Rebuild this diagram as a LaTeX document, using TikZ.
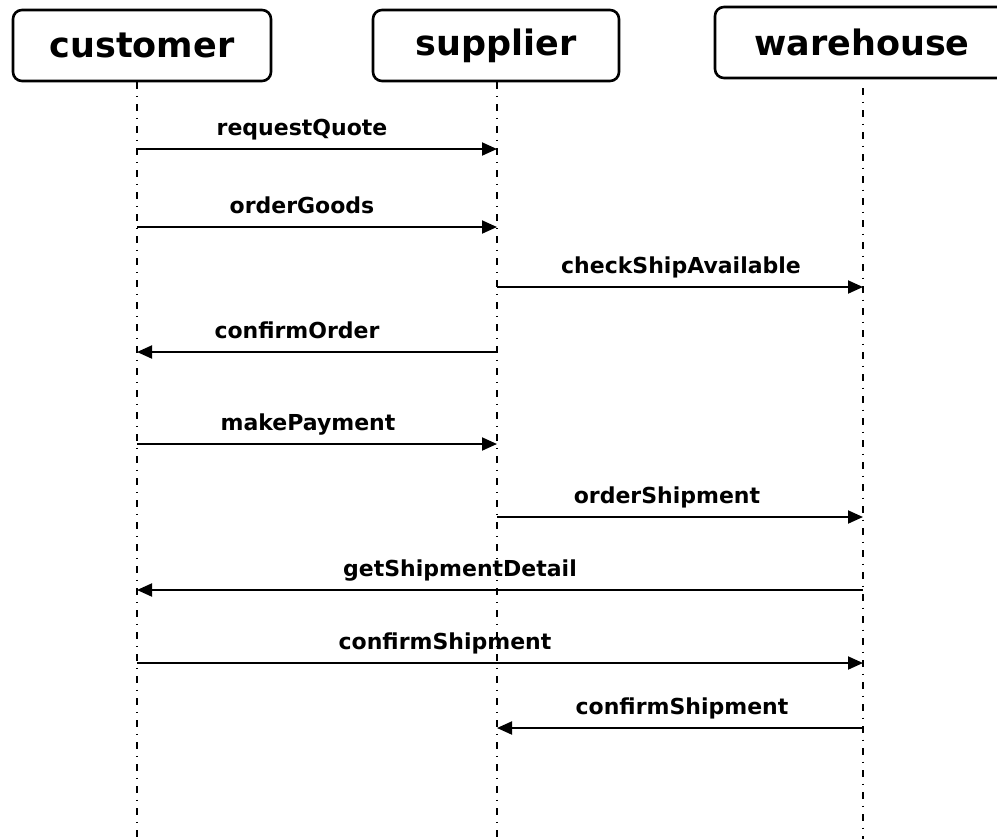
\documentclass[tikz,border=0pt]{standalone}
\usepackage{fontspec}
\setmainfont{DejaVu Sans}
\usetikzlibrary{arrows.meta}

\tikzset{
    actor/.style={draw, line width=2.6pt, rounded corners=9pt, inner sep=0pt,
        minimum height=71pt, font=\fontsize{35}{38}\selectfont\bfseries},
    lifeline/.style={line width=1.4pt, dash pattern=on 7pt off 6.5pt on 1.5pt off 7pt},
    msg/.style={line width=1.9pt, -{Triangle[length=15pt,width=13pt]}},
    msglabel/.style={anchor=base, font=\fontsize{22}{25}\selectfont\bfseries}
}

\begin{document}
\begin{tikzpicture}[x=1pt, y=-1pt]
\useasboundingbox (0,0) rectangle (997,839);

\node[actor, minimum width=258pt] (cust) at (142,45.5) {customer};
\node[actor, minimum width=246pt] (supp) at (496,45.5) {supplier};
\node[actor, minimum width=294pt] (ware) at (862,42.5) {warehouse};

% lifelines
\coordinate (c) at (137,839);
\coordinate (s) at (497,839);
\coordinate (w) at (863,839);
\draw[lifeline] (c |- cust.south) -- (c);
\draw[lifeline] (s |- supp.south) -- (s);
\draw[lifeline] (w |- 0,88) -- (w);

% messages: y / from / to / label shift / text
\foreach \yy/\src/\dst/\dx/\txt in {
    149/c/s/-15/requestQuote,
    227/c/s/-15/orderGoods,
    287/s/w/1/checkShipAvailable,
    352/s/c/-20/confirmOrder,
    444/c/s/-9/makePayment,
    517/s/w/-13/orderShipment,
    590/w/c/-40/getShipmentDetail,
    663/c/w/-55/confirmShipment,
    728/w/s/2/confirmShipment}
{
    \draw[msg] (\src |- 0,\yy) -- (\dst |- 0,\yy)
        node[msglabel, midway, xshift=\dx pt, yshift=14pt]{\txt};
}
\end{tikzpicture}
\end{document}
